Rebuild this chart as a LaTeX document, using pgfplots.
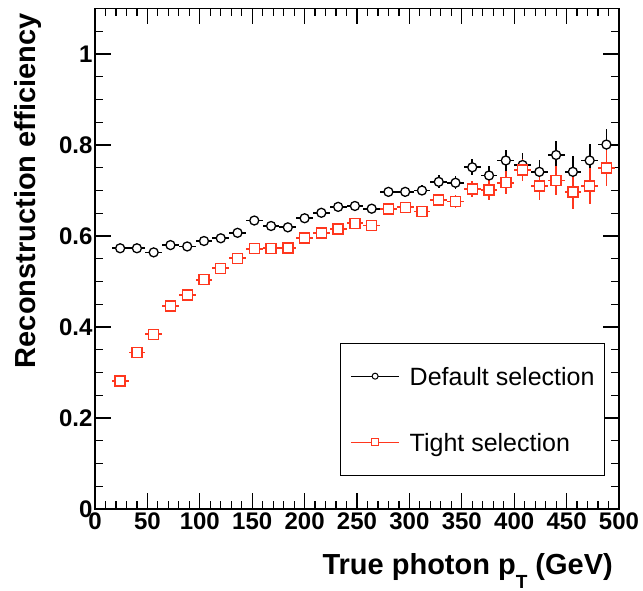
\documentclass[border=0pt]{standalone}
\usepackage{fontspec}
\setmainfont{Liberation Sans}
\usepackage{pgfplots}
\pgfplotsset{compat=1.18}
\usepackage{pgfplotstable}
\definecolor{rootred}{RGB}{255,55,30}

\pgfplotstableread{
x y ex ey
24 0.573 8 0.005
40 0.573 8 0.005
56 0.564 8 0.005
72 0.580 8 0.005
88 0.577 8 0.005
104 0.589 8 0.005
120 0.595 8 0.006
136 0.607 8 0.006
152 0.634 8 0.007
168 0.622 8 0.007
184 0.619 8 0.007
200 0.639 8 0.008
216 0.651 8 0.008
232 0.664 8 0.009
248 0.666 8 0.009
264 0.660 8 0.009
280 0.697 8 0.011
296 0.697 8 0.011
312 0.700 8 0.011
328 0.719 8 0.014
344 0.717 8 0.014
360 0.751 8 0.018
376 0.733 8 0.020
392 0.766 8 0.023
408 0.756 8 0.027
424 0.741 8 0.026
440 0.778 8 0.030
456 0.741 8 0.035
472 0.766 8 0.036
488 0.801 8 0.035
}\defaulttab

\pgfplotstableread{
x y ex ey
24 0.281 8 0.004
40 0.344 8 0.004
56 0.384 8 0.004
72 0.446 8 0.004
88 0.470 8 0.005
104 0.504 8 0.005
120 0.529 8 0.005
136 0.551 8 0.005
152 0.572 8 0.006
168 0.573 8 0.006
184 0.574 8 0.007
200 0.596 8 0.007
216 0.607 8 0.008
232 0.615 8 0.008
248 0.628 8 0.010
264 0.623 8 0.010
280 0.659 8 0.011
296 0.663 8 0.011
312 0.654 8 0.011
328 0.679 8 0.014
344 0.676 8 0.015
360 0.703 8 0.018
376 0.701 8 0.022
392 0.717 8 0.025
408 0.745 8 0.025
424 0.710 8 0.030
440 0.722 8 0.032
456 0.697 8 0.038
472 0.710 8 0.040
488 0.749 8 0.039
}\tighttab

\begin{document}
\begin{tikzpicture}
\path[use as bounding box] (-95pt,-82pt) rectangle (548pt,509pt);
\begin{axis}[
  scale only axis,
  width=524pt, height=500.5pt,
  xmin=0, xmax=500, ymin=0, ymax=1.1,
  enlargelimits=false,
  xtick distance=50, minor x tick num=4,
  ytick distance=0.2, minor y tick num=3,
  tick align=inside,
  major tick length=16pt, minor tick length=8pt,
  axis line style={line width=1.2pt},
  every tick/.style={line width=1.2pt, black},
  /pgf/number format/assume math mode=true,
  tick label style={font=\bfseries\fontsize{24}{24}\selectfont},
  yticklabel style={xshift=1pt},
  xlabel={True photon p\raisebox{-14pt}{\fontsize{19}{19}\selectfont T} (GeV)},
  ylabel={Reconstruction efficiency},
  every axis x label/.style={at={(rel axis cs:0.995,-0.13)}, anchor=base east, font=\bfseries\fontsize{29}{29}\selectfont},
  every axis y label/.style={at={(rel axis cs:-0.1126,0.997)}, rotate=90, anchor=base east, font=\bfseries\fontsize{29}{29}\selectfont},
  legend style={at={(rel axis cs:0.4676,0.3323)}, anchor=north west, draw=black, line width=1pt, fill=white,
    inner xsep=10pt, inner ysep=21.5pt, row sep=43pt,
    font=\fontsize{25}{30}\selectfont,
    nodes={inner sep=0pt, text height=21pt, text depth=2pt},
    /tikz/every odd column/.append style={column sep=10pt}},
  legend cell align=left,
  legend image code/.code={
    \draw[mark repeat=2,mark phase=2,#1] plot coordinates {(0pt,0pt) (24pt,0pt) (48pt,0pt)};
  },
]
\addlegendimage{black, line width=1.2pt, mark=*, mark size=3pt, mark options={fill=white, draw=black, line width=1pt}}
\addlegendentry{Default selection}
\addlegendimage{rootred, line width=1.2pt, mark=square*, mark size=3.5pt, mark options={fill=white, draw=rootred, line width=1pt}}
\addlegendentry{Tight selection}

\addplot[black, only marks, mark=*, mark size=4.5pt, mark options={fill=white, draw=black, line width=1.3pt},
  error bars/.cd, x dir=both, x explicit, y dir=both, y explicit, error mark=none,
  error bar style={line width=1.7pt, black}]
  table[x=x, y=y, x error=ex, y error=ey] {\defaulttab};

\addplot[rootred, only marks, mark=square*, mark size=5pt, mark options={fill=white, draw=rootred, line width=1.4pt},
  error bars/.cd, x dir=both, x explicit, y dir=both, y explicit, error mark=none,
  error bar style={line width=1.7pt, rootred}]
  table[x=x, y=y, x error=ex, y error=ey] {\tighttab};
\end{axis}
\end{tikzpicture}
\end{document}
